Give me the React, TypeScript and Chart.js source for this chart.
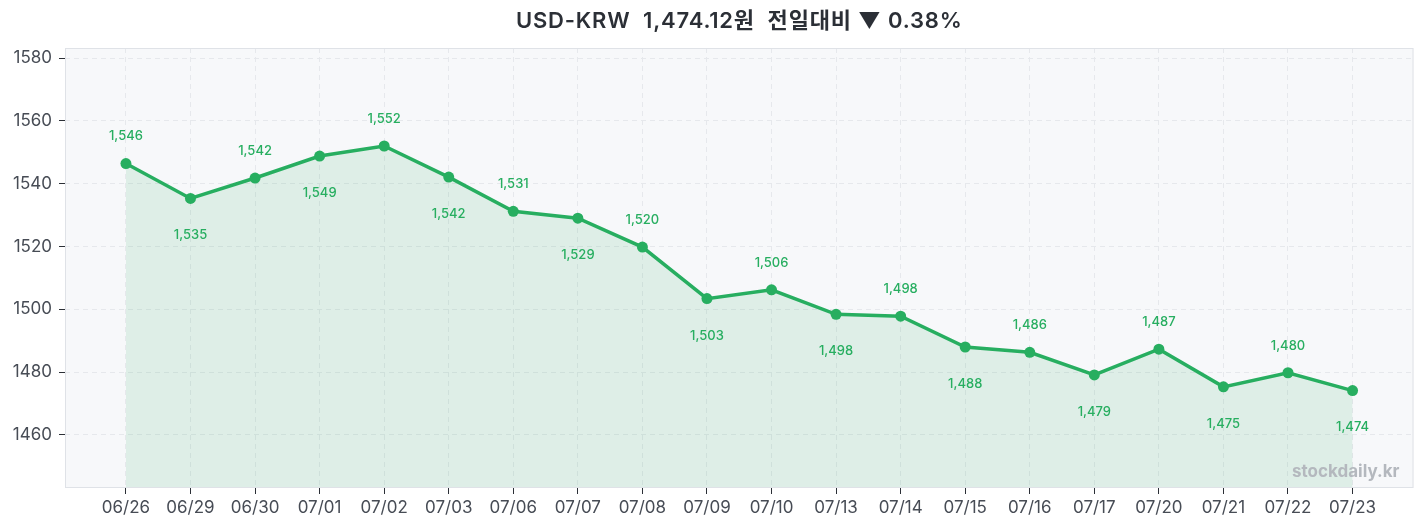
import React, { useEffect, useRef } from "react";
import { Chart, registerables } from "chart.js";

Chart.register(...registerables);

const categories = ["06/26","06/29","06/30","07/01","07/02","07/03","07/06","07/07","07/08","07/09","07/10","07/13","07/14","07/15","07/16","07/17","07/20","07/21","07/22","07/23"];
const usdKrw = [1546.4,1535.3,1541.8,1548.8,1552.0,1542.1,1531.2,1529.0,1519.8,1503.4,1506.2,1498.4,1497.8,1488.0,1486.3,1479.1,1487.3,1475.3,1479.8,1474.12];
const yTicks = [1460,1480,1500,1520,1540,1560,1580];
const titleText = "USD-KRW  1,474.12원  전일대비 ▼ 0.38%";
const watermark = "stockdaily.kr";

const FONT = "Inter, 'Noto Sans CJK KR', sans-serif";
const GREEN = "#27ae60";

export default function App() {
  const ref = useRef<HTMLCanvasElement | null>(null);
  useEffect(() => {
    if (!ref.current) return;
    const bgPlugin = {
      id: "bgPlugin",
      beforeDraw(chart: any) {
        const { ctx, chartArea: a } = chart;
        ctx.save();
        ctx.fillStyle = "#f7f8fa";
        ctx.fillRect(a.left, a.top, a.right - a.left, a.bottom - a.top);
        ctx.restore();
      },
      afterDraw(chart: any) {
        const { ctx, chartArea: a } = chart;
        ctx.save();
        ctx.strokeStyle = "#dfe2e7";
        ctx.lineWidth = 1;
        ctx.strokeRect(a.left + 0.5, a.top + 0.5, a.right - a.left - 1, a.bottom - a.top - 1);
        ctx.fillStyle = "#b4b8be";
        ctx.font = "bold 17px " + FONT;
        ctx.textAlign = "right";
        ctx.textBaseline = "alphabetic";
        ctx.fillText(watermark, a.right - 14, a.bottom - 11);
        ctx.fillStyle = "#2b2f36";
        ctx.font = "600 22px " + FONT;
        (ctx as any).letterSpacing = "0.8px";
        ctx.textAlign = "center";
        ctx.textBaseline = "middle";
        ctx.fillText(titleText, (a.left + a.right) / 2, 13);
        ctx.restore();
      },
      afterDatasetsDraw(chart: any) {
        const { ctx } = chart;
        const meta = chart.getDatasetMeta(0);
        ctx.save();
        ctx.fillStyle = GREEN;
        ctx.font = "500 13px " + FONT;
        ctx.textAlign = "center";
        ctx.textBaseline = "middle";
        meta.data.forEach((pt: any, i: number) => {
          const v = usdKrw[i];
          const txt = Math.round(v).toLocaleString("en-US");
          const dy = i % 2 === 0 ? -27 : 37;
          ctx.fillText(txt, pt.x, pt.y + dy);
        });
        ctx.restore();
      },
    };
    const chart = new Chart(ref.current, {
      type: "line",
      data: {
        datasets: [
          {
            data: usdKrw.map((v, i) => ({ x: i, y: v })),
            borderColor: GREEN,
            backgroundColor: "rgba(39,174,96,0.12)",
            fill: "start",
            borderWidth: 3.5,
            pointRadius: 5.5,
            pointBackgroundColor: GREEN,
            pointBorderColor: GREEN,
            pointBorderWidth: 0,
            tension: 0,
          },
        ],
      },
      options: {
        animation: false,
        responsive: true,
        maintainAspectRatio: false,
        layout: { padding: { top: 40, right: 4, left: 0, bottom: 0 } },
        plugins: { legend: { display: false }, tooltip: { enabled: false }, title: { display: false } },
        scales: {
          x: {
            type: "linear",
            min: -0.944,
            max: 19.944,
            afterBuildTicks: (s: any) => {
              s.ticks = categories.map((_, i) => ({ value: i }));
            },
            afterFit: (s: any) => {
              s.height = 33;
            },
            ticks: {
              autoSkip: false,
              maxRotation: 0,
              padding: 4,
              color: "#474c55",
              font: { family: FONT, size: 17 },
              callback: (v: any) => categories[v as number] ?? "",
            },
            grid: {
              color: "#e6e8ec",
              borderDash: [5, 4],
              tickLength: 6,
              tickColor: "#2b2f36",
              tickBorderDash: [],
            } as any,
            border: { display: false, dash: [5, 4] } as any,
          },
          y: {
            min: 1443.1,
            max: 1583.2,
            afterBuildTicks: (s: any) => {
              s.ticks = yTicks.map((v) => ({ value: v }));
            },
            afterFit: (s: any) => {
              s.width = 57;
            },
            ticks: {
              padding: 7,
              color: "#474c55",
              font: { family: FONT, size: 17 },
              callback: (v: any) => String(v),
            },
            grid: {
              color: "#e6e8ec",
              tickLength: 6,
              tickColor: "#2b2f36",
              tickBorderDash: [],
            } as any,
            border: { display: false, dash: [5, 4] } as any,
          },
        },
      },
      plugins: [bgPlugin],
    });
    return () => chart.destroy();
  }, []);
  return (
    <div style={{ width: "100%", height: 513, position: "relative" }}>
      <canvas ref={ref} />
    </div>
  );
}
